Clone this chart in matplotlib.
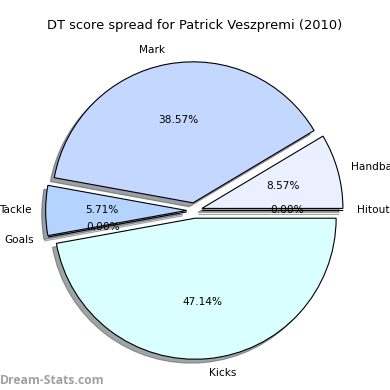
import matplotlib
matplotlib.use("Agg")
import matplotlib.pyplot as plt

labels = ["Hitout", "Handball", "Mark", "Tackle", "Goals", "Kicks"]
values = [0.0, 8.57, 38.57, 5.71, 0.0, 47.14]
colors = ["#E0E8FF", "#EAF0FF", "#C4D8FF", "#B4D3FF", "#C8E0FF", "#D9FFFF"]
explode = [0.055, 0.055, 0.055, 0.055, 0.055, 0.055]
title = "DT score spread for Patrick Veszpremi (2010)"
watermark = "Dream-Stats.com"

fig = plt.figure(figsize=(3.9, 3.9), dpi=100)
ax = fig.add_axes([0.0465, 0.0083, 0.904, 0.904])
wedges, texts, autotexts = ax.pie(
    values, labels=labels, colors=colors, explode=explode,
    autopct="%1.2f%%", shadow=True, startangle=0, labeldistance=1.1,
    pctdistance=0.6, wedgeprops=dict(edgecolor="black", linewidth=0.8),
    textprops=dict(fontsize=7.6))
for t in texts:
    x, y = t.get_position()
    t.set_ha("left" if x > 0 else "right")
ax.set_xlim(-1.25, 1.25)
ax.set_ylim(-1.25, 1.25)
ax.set_aspect("equal")
ax.axis("off")

fig.text(0.5, 1 - 25 / 390, title, ha="center", va="center", fontsize=9.35)
fig.text(0.0, 1 - 381 / 390, watermark, ha="left", va="center",
         fontsize=8.7, fontweight="bold", color="#A0A0A0",
         family=["Open Sans", "DejaVu Sans"])
fig.savefig("out.png", dpi=100)
